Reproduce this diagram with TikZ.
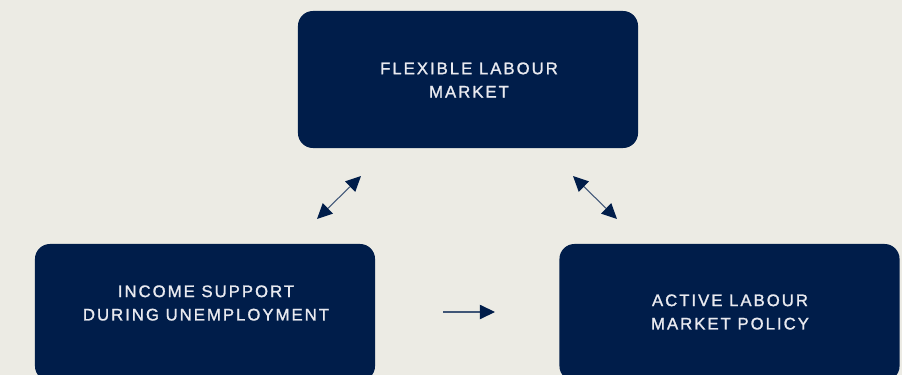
\documentclass[tikz,border=0pt]{standalone}
\usepackage{fontspec}
\setmainfont{Liberation Sans}
\newfontfamily\boxfont[LetterSpace=12,FakeBold=1.3]{Liberation Sans}
\usepackage{tikz}
\usetikzlibrary{arrows.meta,positioning,calc}
\definecolor{navy}{HTML}{001D4A}
\definecolor{paper}{HTML}{ECEBE4}
\definecolor{boxtext}{HTML}{E9EAF0}

\tikzset{
    panel/.style={fill=navy, rounded corners=0.375cm, minimum width=8.5cm, minimum height=3.425cm, inner sep=0pt},
    caption/.style={text=boxtext, align=center, font=\boxfont\fontsize{11.9}{16.6}\selectfont},
    link/.style={draw=navy!75, line width=0.75pt, -{Triangle[length=0.38cm, width=0.36cm, color=navy]}},
    twolink/.style={draw=navy!75, line width=0.75pt, {Triangle[length=0.38cm, width=0.36cm, color=navy]}-{Triangle[length=0.38cm, width=0.36cm, color=navy]}}
}

\begin{document}
\begin{tikzpicture}[x=0.025cm, y=-0.025cm]
    \fill [paper] (0,0) rectangle (902,375);
    \clip (0,0) rectangle (902,375);

    % boxes
    \node [panel] (flex) at (468,79.5) {};
    \node [panel] (income) at (205,312.5) {};
    \node [panel] (active) at (729.5,312.5) {};

    % texts
    \node [caption] (flextext) at (469,80) {FLEXIBLE LABOUR\\MARKET};
    \node [caption] (incometext) at (206,303) {INCOME SUPPORT\\DURING UNEMPLOYMENT};
    \node [caption] (activetext) at (730,312) {ACTIVE LABOUR\\MARKET POLICY};

    % arrow ends
    \coordinate (l1) at (317,219);
    \coordinate (l2) at (361,176);
    \coordinate (r1) at (573,176);
    \coordinate (r2) at (617,219);
    \coordinate (h1) at (443,312);
    \coordinate (h2) at (495,312);

    \draw [twolink] (l1) -- (l2);
    \draw [twolink] (r1) -- (r2);
    \draw [link] (h1) -- (h2);
\end{tikzpicture}
\end{document}
